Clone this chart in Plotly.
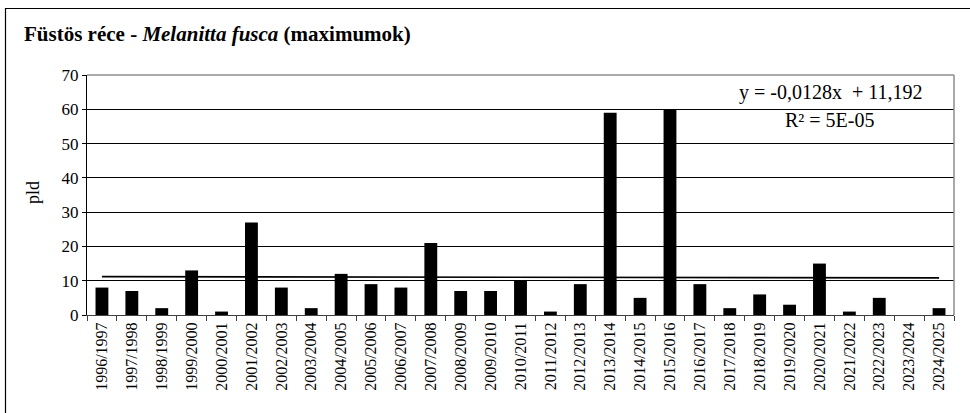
import plotly.graph_objects as go

seasons = ["1996/1997", "1997/1998", "1998/1999", "1999/2000", "2000/2001", "2001/2002",
           "2002/2003", "2003/2004", "2004/2005", "2005/2006", "2006/2007", "2007/2008",
           "2008/2009", "2009/2010", "2010/2011", "2011/2012", "2012/2013", "2013/2014",
           "2014/2015", "2015/2016", "2016/2017", "2017/2018", "2018/2019", "2019/2020",
           "2020/2021", "2021/2022", "2022/2023", "2023/2024", "2024/2025"]
max_counts = [8, 7, 2, 13, 1, 27, 8, 2, 12, 9, 8, 21, 7, 7, 10, 1, 9, 59, 5, 60,
              9, 2, 6, 3, 15, 1, 5, 0, 2]
y_ticks = [0, 10, 20, 30, 40, 50, 60, 70]

trend_slope = -0.0128
trend_intercept = 11.192
trend_label = "y = -0,0128x  + 11,192"
r2_label = "R² = 5E-05"

trend_x = [seasons[0], seasons[-1]]
trend_y = [trend_slope * 1 + trend_intercept, trend_slope * len(seasons) + trend_intercept]

W, H = 970, 413
L, R, T, B = 87, 954, 75, 315


def px(x):
    return (x - L) / (R - L)


def py(y):
    return (B - y) / (B - T)


serif = "Liberation Serif"

fig = go.Figure()
fig.add_trace(go.Bar(x=seasons, y=max_counts, marker=dict(color="black", line=dict(width=0)),
                     showlegend=False, hoverinfo="x+y"))
fig.add_trace(go.Scatter(x=trend_x, y=trend_y, mode="lines", line=dict(color="black", width=1.6),
                         showlegend=False, hoverinfo="skip"))

fig.update_layout(
    width=W, height=H,
    margin=dict(l=L, r=W - R, t=T, b=H - B, autoexpand=False),
    paper_bgcolor="white", plot_bgcolor="white",
    bargap=0.57,
    font=dict(family=serif, color="black", size=17),
    xaxis=dict(type="category", showgrid=False, showline=True, linecolor="#404040", linewidth=1,
               ticks="outside", tickson="boundaries", ticklen=5, tickcolor="#404040",
               tickangle=-90, tickfont=dict(size=16, family=serif), range=[-0.5, len(seasons) - 0.5],
               automargin=False),
    yaxis=dict(range=[0, 70], tickvals=y_ticks, showgrid=True, gridcolor="black", gridwidth=1,
               showline=True, linecolor="black", linewidth=1, ticks="outside", ticklen=4,
               tickcolor="black", tickfont=dict(size=17, family=serif), zeroline=False,
               automargin=False),
)

# plot area top/right border (grey)
fig.add_shape(type="line", xref="paper", yref="paper", x0=0, x1=1, y0=1, y1=1,
              line=dict(color="#8c8c8c", width=1.5), layer="above")
fig.add_shape(type="line", xref="paper", yref="paper", x0=1, x1=1, y0=0, y1=1,
              line=dict(color="#8c8c8c", width=1.5), layer="above")
# outer chart border
fig.add_shape(type="rect", xref="paper", yref="paper", x0=px(5.5), x1=px(980), y0=py(8.5), y1=py(430),
              line=dict(color="black", width=1.2), fillcolor="rgba(0,0,0,0)", layer="above")

fig.add_annotation(xref="paper", yref="paper", x=px(22), y=py(34), xanchor="left", yanchor="middle",
                   showarrow=False,
                   text="<b>Füstös réce - <i>Melanitta fusca</i> (maximumok)</b>",
                   font=dict(size=21, family=serif, color="black"))
fig.add_annotation(xref="paper", yref="paper", x=px(33), y=py(193), xanchor="center", yanchor="middle",
                   showarrow=False, text="pld", textangle=-90,
                   font=dict(size=18, family=serif, color="black"))
fig.add_annotation(xref="paper", yref="paper", x=px(830), y=py(92), xanchor="center", yanchor="middle",
                   showarrow=False, text=trend_label, font=dict(size=20, family=serif, color="black"))
fig.add_annotation(xref="paper", yref="paper", x=px(830), y=py(120), xanchor="center", yanchor="middle",
                   showarrow=False, text=r2_label, font=dict(size=20, family=serif, color="black"))

fig.write_html("out.html", config={"displayModeBar": False},
               post_script="document.body.style.margin='0';")
